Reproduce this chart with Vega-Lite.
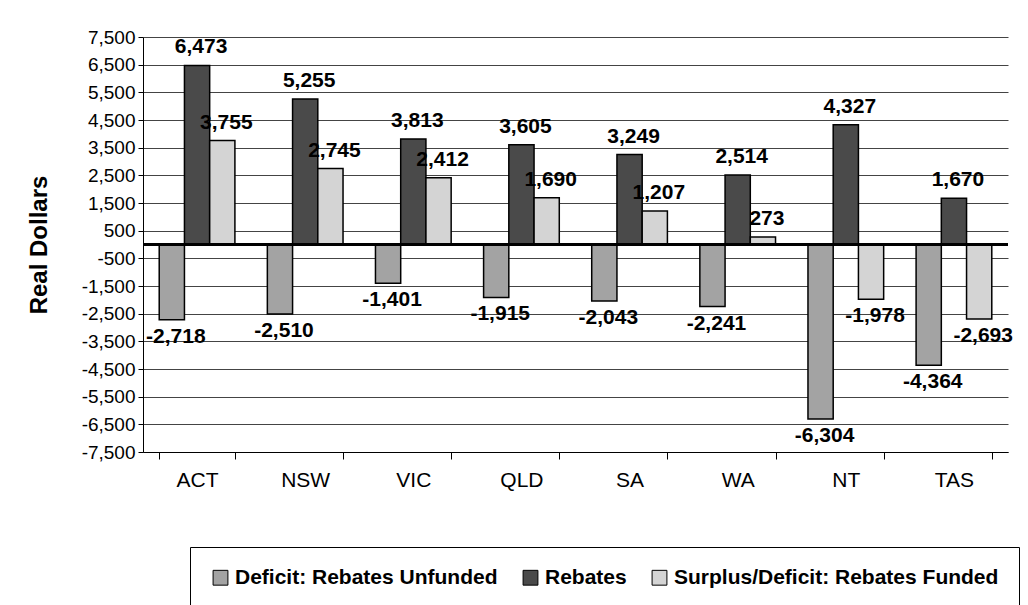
{
  "$schema": "https://vega.github.io/schema/vega-lite/v6.json",
  "width": 865,
  "height": 415,
  "autosize": {"type": "none"},
  "padding": {"left": 143, "top": 37, "right": 20, "bottom": 153},
  "background": "white",
  "config": {
    "view": {"stroke": null},
    "font": "Liberation Sans",
    "locale": {"number": {"decimal": ".", "thousands": ",", "grouping": [3], "currency": ["$", ""], "minus": "-"}}
  },
  "data": {
    "values": [
      {"state": "ACT", "series": "Deficit: Rebates Unfunded", "value": -2718},
      {"state": "ACT", "series": "Rebates", "value": 6473},
      {"state": "ACT", "series": "Surplus/Deficit: Rebates Funded", "value": 3755},
      {"state": "NSW", "series": "Deficit: Rebates Unfunded", "value": -2510},
      {"state": "NSW", "series": "Rebates", "value": 5255},
      {"state": "NSW", "series": "Surplus/Deficit: Rebates Funded", "value": 2745},
      {"state": "VIC", "series": "Deficit: Rebates Unfunded", "value": -1401},
      {"state": "VIC", "series": "Rebates", "value": 3813},
      {"state": "VIC", "series": "Surplus/Deficit: Rebates Funded", "value": 2412},
      {"state": "QLD", "series": "Deficit: Rebates Unfunded", "value": -1915},
      {"state": "QLD", "series": "Rebates", "value": 3605},
      {"state": "QLD", "series": "Surplus/Deficit: Rebates Funded", "value": 1690},
      {"state": "SA", "series": "Deficit: Rebates Unfunded", "value": -2043},
      {"state": "SA", "series": "Rebates", "value": 3249},
      {"state": "SA", "series": "Surplus/Deficit: Rebates Funded", "value": 1207},
      {"state": "WA", "series": "Deficit: Rebates Unfunded", "value": -2241},
      {"state": "WA", "series": "Rebates", "value": 2514},
      {"state": "WA", "series": "Surplus/Deficit: Rebates Funded", "value": 273},
      {"state": "NT", "series": "Deficit: Rebates Unfunded", "value": -6304},
      {"state": "NT", "series": "Rebates", "value": 4327},
      {"state": "NT", "series": "Surplus/Deficit: Rebates Funded", "value": -1978},
      {"state": "TAS", "series": "Deficit: Rebates Unfunded", "value": -4364},
      {"state": "TAS", "series": "Rebates", "value": 1670},
      {"state": "TAS", "series": "Surplus/Deficit: Rebates Funded", "value": -2693}
    ]
  },
  "encoding": {
    "x": {
      "field": "state",
      "type": "nominal",
      "sort": ["ACT", "NSW", "VIC", "QLD", "SA", "WA", "NT", "TAS"],
      "scale": {"paddingInner": 0.3, "paddingOuter": 0.15},
      "axis": {
        "title": null,
        "labelAngle": 0,
        "labelFontSize": 21,
        "labelColor": "black",
        "labelPadding": 10,
        "domainColor": "black",
        "tickColor": "black",
        "tickBand": "extent",
        "tickSize": 7
      }
    },
    "y": {
      "field": "value",
      "type": "quantitative",
      "scale": {"domain": [-7500, 7500], "nice": false, "zero": false},
      "axis": {
        "title": "Real Dollars",
        "titleFontSize": 24,
        "titleFontWeight": "bold",
        "titleColor": "black",
        "titlePadding": 30,
        "values": [-7500, -6500, -5500, -4500, -3500, -2500, -1500, -500, 500, 1500, 2500, 3500, 4500, 5500, 6500, 7500],
        "format": ",d",
        "labelFontSize": 19,
        "labelColor": "black",
        "labelPadding": 3,
        "domainColor": "black",
        "tickColor": "black",
        "tickSize": 5,
        "grid": true,
        "gridColor": "#444",
        "gridWidth": 1
      }
    }
  },
  "layer": [
    {
      "mark": {"type": "bar", "stroke": "black", "strokeWidth": 1.5},
      "encoding": {
        "xOffset": {"field": "series", "type": "nominal", "sort": ["Deficit: Rebates Unfunded", "Rebates", "Surplus/Deficit: Rebates Funded"]},
        "color": {
          "field": "series",
          "type": "nominal",
          "sort": ["Deficit: Rebates Unfunded", "Rebates", "Surplus/Deficit: Rebates Funded"],
          "scale": {"domain": ["Deficit: Rebates Unfunded", "Rebates", "Surplus/Deficit: Rebates Funded"], "range": ["#a3a3a3", "#4a4a4a", "#d4d4d4"]},
          "legend": {
            "title": null,
            "orient": "none",
            "direction": "horizontal",
            "legendX": 47,
            "legendY": 510,
            "columns": 3,
            "columnPadding": 22,
            "labelFontSize": 21,
            "labelFontWeight": "bold",
            "labelColor": "black",
            "labelLimit": 450,
            "labelOffset": 4,
            "symbolType": "square",
            "symbolSize": 220,
            "symbolStrokeColor": "black",
            "symbolStrokeWidth": 1,
            "strokeColor": "black",
            "padding": 20
          }
        }
      }
    },
    {
      "mark": {"type": "rule", "color": "black", "strokeWidth": 1.5},
      "encoding": {"y": {"datum": 0}, "x": null}
    },
    {
      "transform": [{"filter": "datum.value >= 0"}],
      "mark": {"type": "text", "baseline": "bottom", "dy": -8, "dx": 4, "fontSize": 21, "fontWeight": "bold", "color": "black"},
      "encoding": {
        "xOffset": {"field": "series", "type": "nominal", "sort": ["Deficit: Rebates Unfunded", "Rebates", "Surplus/Deficit: Rebates Funded"]},
        "text": {"field": "value", "type": "quantitative", "format": ",d"}
      }
    },
    {
      "transform": [{"filter": "datum.value < 0"}],
      "mark": {"type": "text", "baseline": "top", "dy": 6, "dx": 4, "fontSize": 21, "fontWeight": "bold", "color": "black"},
      "encoding": {
        "xOffset": {"field": "series", "type": "nominal", "sort": ["Deficit: Rebates Unfunded", "Rebates", "Surplus/Deficit: Rebates Funded"]},
        "text": {"field": "value", "type": "quantitative", "format": ",d"}
      }
    }
  ]
}
